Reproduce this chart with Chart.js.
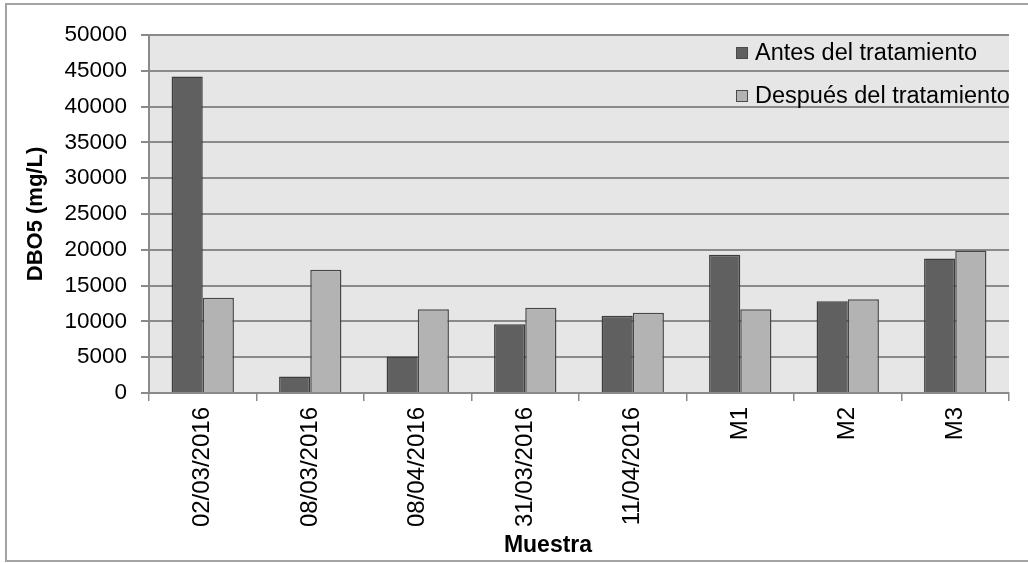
<!DOCTYPE html>
<html>
<head>
<meta charset="utf-8">
<script src="https://cdn.jsdelivr.net/npm/chart.js@4/dist/chart.umd.min.js"></script>
<style>
  html, body { margin: 0; padding: 0; background: #ffffff; }
  #wrap { width: 1028px; height: 563px; position: relative; }
  canvas { display: block; }
</style>
</head>
<body>
<div id="wrap"><canvas id="chart" width="1028" height="563"></canvas></div>
<script>
// Muestras y valores de DBO5 (mg/L)
const categories = ['02/03/2016', '08/03/2016', '08/04/2016', '31/03/2016', '11/04/2016', 'M1', 'M2', 'M3'];
const antes = [44200, 2300, 5100, 9600, 10800, 19300, 12800, 18800];
const despues = [13300, 17200, 11700, 11900, 11200, 11700, 13100, 19900];
const seriesNames = ['Antes del tratamiento', 'Después del tratamiento'];
const yMin = 0;
const yMax = 50000;
const yStep = 5000;
const yTitle = 'DBO5 (mg/L)';
const xTitle = 'Muestra';

const FONT = '"Liberation Sans", Arial, Helvetica, sans-serif';
const GRID = '#8a8a8a';

// Fondo gris del área de trazado y marco exterior
const backgroundPlugin = {
  id: 'plotBackground',
  beforeDraw(chart) {
    const { ctx, chartArea: a } = chart;
    ctx.save();
    ctx.fillStyle = '#ffffff';
    ctx.fillRect(0, 0, chart.width, chart.height);
    ctx.fillStyle = '#e6e6e6';
    ctx.fillRect(a.left, a.top, a.right - a.left, a.bottom - a.top);
    ctx.strokeStyle = '#a3a3a3';
    ctx.lineWidth = 2;
    ctx.strokeRect(6, 4, chart.width + 20, 557);
    ctx.restore();
  }
};

// Leyenda dentro del área de trazado, arriba a la derecha
const innerLegendPlugin = {
  id: 'innerLegend',
  afterDraw(chart) {
    const { ctx } = chart;
    ctx.save();
    ctx.font = '23.5px ' + FONT;
    ctx.textBaseline = 'middle';
    ctx.textAlign = 'left';
    chart.data.datasets.forEach((ds, i) => {
      const y = 53 + i * 43;
      ctx.fillStyle = ds.backgroundColor;
      ctx.fillRect(736, y - 6, 12, 12);
      ctx.strokeStyle = '#4a4a4a';
      ctx.lineWidth = 1;
      ctx.strokeRect(736.5, y - 5.5, 11, 11);
      ctx.fillStyle = '#000000';
      ctx.fillText(ds.label, 755, y + 1);
    });
    ctx.restore();
  }
};

// Título del eje X
const xTitlePlugin = {
  id: 'xAxisTitle',
  afterDraw(chart) {
    const { ctx } = chart;
    ctx.save();
    ctx.font = 'bold 23px ' + FONT;
    ctx.fillStyle = '#000000';
    ctx.textAlign = 'center';
    ctx.textBaseline = 'middle';
    ctx.fillText(xTitle, 548, 546);
    ctx.restore();
  }
};

new Chart(document.getElementById('chart'), {
  type: 'bar',
  data: {
    labels: categories,
    datasets: [
      {
        label: seriesNames[0],
        data: antes,
        backgroundColor: '#606060',
        borderColor: '#3c3c3c',
        borderWidth: 1.5
      },
      {
        label: seriesNames[1],
        data: despues,
        backgroundColor: '#b3b3b3',
        borderColor: '#474747',
        borderWidth: 1.5
      }
    ]
  },
  options: {
    responsive: false,
    maintainAspectRatio: false,
    animation: false,
    devicePixelRatio: 1,
    layout: { padding: { left: 0, top: 35, right: 19, bottom: 0 } },
    datasets: { bar: { categoryPercentage: 0.58, barPercentage: 1.0 } },
    plugins: {
      legend: { display: false },
      tooltip: { enabled: false },
      title: { display: false }
    },
    scales: {
      x: {
        grid: {
          display: true,
          offset: true,
          drawOnChartArea: false,
          drawTicks: true,
          tickLength: 8,
          color: GRID,
          lineWidth: 1.5
        },
        border: { display: true, color: GRID, width: 2 },
        ticks: {
          minRotation: 90,
          maxRotation: 90,
          autoSkip: false,
          padding: 6,
          color: '#000000',
          font: { family: FONT, size: 24 }
        },
        afterFit(scale) { scale.height = 170; }
      },
      y: {
        min: yMin,
        max: yMax,
        grid: {
          color: GRID,
          lineWidth: 2,
          drawTicks: true,
          tickLength: 8
        },
        border: { display: true, color: GRID, width: 2 },
        ticks: {
          stepSize: yStep,
          padding: 14,
          color: '#000000',
          font: { family: FONT, size: 22.5 },
          callback: (v) => String(v)
        },
        title: {
          display: true,
          text: yTitle,
          color: '#000000',
          font: { family: FONT, size: 22, weight: 'bold' },
          padding: { top: 23, bottom: 0 }
        },
        afterFit(scale) { scale.width = 149; }
      }
    }
  },
  plugins: [backgroundPlugin, innerLegendPlugin, xTitlePlugin]
});
</script>
</body>
</html>
